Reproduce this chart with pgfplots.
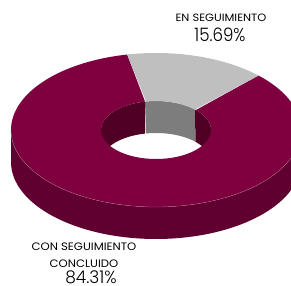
\documentclass[border=0pt]{standalone}
\usepackage{pgfplots}
\pgfplotsset{compat=1.18}
\usepackage{graphicx}
\usepackage{fontspec}
\setmainfont{Poppins}
\newfontfamily\numfont{Poppins Light}
\definecolor{maroonTop}{HTML}{7F003F}
\definecolor{maroonSide}{HTML}{600030}
\definecolor{maroonIn}{HTML}{4F0024}
\definecolor{grayTop}{HTML}{BFBFBF}
\definecolor{grayIn}{HTML}{7D7D7D}
\definecolor{edgeLine}{HTML}{B8688F}
% data (percent)
\def\vSeg{15.69}
\def\vCon{84.31}
% geometry (pixel units)
\def\cx{156}\def\cy{156}
\def\Rx{145}\def\Ry{77}
\def\rx{55}\def\ry{29}
\def\dep{32}
\def\startang{45}
\pgfmathsetmacro{\aA}{\startang}
\pgfmathsetmacro{\aB}{\startang+3.6*\vSeg}
\pgfmathsetmacro{\aC}{\aB+3.6*\vCon}
\begin{document}
\begin{tikzpicture}
\begin{axis}[
  width=291bp, height=286bp, scale only axis,
  xmin=0, xmax=291, ymin=0, ymax=286,
  hide axis, clip=true,
]
% inner walls (back half of the hole)
\addplot[fill=maroonIn, draw=none, domain=0:2, samples=101, variable=\t]
  ({\cx + \rx*cos(\t<=1 ? 0+\aA*\t : \aA-\aA*(\t-1))},
   {\cy - (\t<=1 ? 0 : \dep) + \ry*sin(\t<=1 ? 0+\aA*\t : \aA-\aA*(\t-1))});
\addplot[fill=grayIn, draw=none, domain=0:2, samples=101, variable=\t]
  ({\cx + \rx*cos(\t<=1 ? \aA+(\aB-\aA)*\t : \aB-(\aB-\aA)*(\t-1))},
   {\cy - (\t<=1 ? 0 : \dep) + \ry*sin(\t<=1 ? \aA+(\aB-\aA)*\t : \aB-(\aB-\aA)*(\t-1))});
\addplot[fill=maroonIn, draw=none, domain=0:2, samples=101, variable=\t]
  ({\cx + \rx*cos(\t<=1 ? \aB+(180-\aB)*\t : 180-(180-\aB)*(\t-1))},
   {\cy - (\t<=1 ? 0 : \dep) + \ry*sin(\t<=1 ? \aB+(180-\aB)*\t : 180-(180-\aB)*(\t-1))});
% outer front wall
\addplot[fill=maroonSide, draw=none, domain=0:2, samples=201, variable=\t]
  ({\cx + \Rx*cos(\t<=1 ? 180+180*\t : 360-180*(\t-1))},
   {\cy - (\t<=1 ? 0 : \dep) + \Ry*sin(\t<=1 ? 180+180*\t : 360-180*(\t-1))});
% top surface: CON SEGUIMIENTO CONCLUIDO
\addplot[fill=maroonTop, draw=none, domain=0:2, samples=401, variable=\t]
  ({\cx + (\t<=1 ? \Rx : \rx)*cos(\t<=1 ? \aB+(\aC-\aB)*\t : \aC-(\aC-\aB)*(\t-1))},
   {\cy + (\t<=1 ? \Ry : \ry)*sin(\t<=1 ? \aB+(\aC-\aB)*\t : \aC-(\aC-\aB)*(\t-1))});
% top surface: EN SEGUIMIENTO
\addplot[fill=grayTop, draw=none, domain=0:2, samples=101, variable=\t]
  ({\cx + (\t<=1 ? \Rx : \rx)*cos(\t<=1 ? \aA+(\aB-\aA)*\t : \aB-(\aB-\aA)*(\t-1))},
   {\cy + (\t<=1 ? \Ry : \ry)*sin(\t<=1 ? \aA+(\aB-\aA)*\t : \aB-(\aB-\aA)*(\t-1))});
% light front edge
\addplot[draw=edgeLine, line width=0.3bp, domain=180:360, samples=100, variable=\t]
  ({\cx + \Rx*cos(\t)}, {\cy + \Ry*sin(\t)});
% labels
\node[anchor=base, inner sep=0pt, font=\fontsize{10.6bp}{12bp}\selectfont] at (axis cs:221,264.7) {\scalebox{1.08}[1]{EN SEGUIMIENTO}};
\node[anchor=base, inner sep=0pt, font=\fontsize{18.5bp}{20bp}\numfont] at (axis cs:220,244.7) {\scalebox{0.9}[1]{15.69\%}};
\node[anchor=base, inner sep=0pt, font=\fontsize{10.8bp}{12bp}\selectfont] at (axis cs:84,35.3) {\scalebox{1.08}[1]{CON SEGUIMIENTO}};
\node[anchor=base, inner sep=0pt, font=\fontsize{10.8bp}{12bp}\selectfont] at (axis cs:84,18.7) {\scalebox{1.08}[1]{CONCLUIDO}};
\node[anchor=base, inner sep=0pt, font=\fontsize{17.5bp}{19bp}\numfont] at (axis cs:91,3) {\scalebox{0.97}[1]{84.31\%}};
\end{axis}
\pgfresetboundingbox
\path (0,0) rectangle (291bp,286bp);
\end{tikzpicture}
\end{document}
